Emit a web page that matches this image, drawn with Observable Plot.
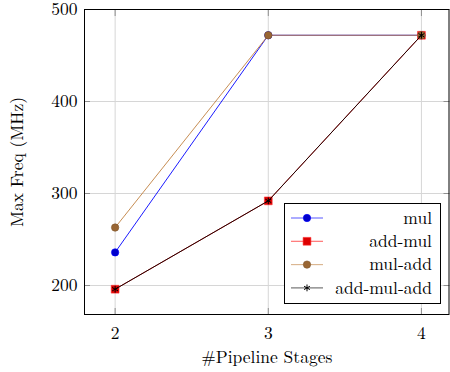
<!DOCTYPE html>
<html><head><meta charset="utf-8">
<script src="https://cdn.jsdelivr.net/npm/d3@7"></script>
<script src="https://cdn.jsdelivr.net/npm/@observablehq/plot@0.6"></script>
<style>
body{margin:0;background:#fff;}
#wrap{position:relative;width:450px;height:372px;font-family:'Latin Modern Roman',serif;}
</style></head><body><div id="wrap"></div>
<script>
const stages = [2, 3, 4];
const seriesNames = ["mul", "add-mul", "mul-add", "add-mul-add"];
const mul = [236, 472, 472];
const addMul = [196, 292, 472];
const mulAdd = [263, 472, 472];
const addMulAdd = [196, 292, 472];
const xTicks = [2, 3, 4];
const yTicks = [200, 300, 400, 500];
const xLabel = "#Pipeline Stages";
const yLabel = "Max Freq (MHz)";

const values = [mul, addMul, mulAdd, addMulAdd];
const styles = [
  {line: "#0000ff", fill: "#0000cc", stroke: "#0000ff", symbol: "circle", r: 3.7},
  {line: "#ff0000", fill: "#dd0000", stroke: "#ff3030", symbol: "square", r: 4.4},
  {line: "#bf8040", fill: "#996633", stroke: "#80552b", symbol: "circle", r: 3.7},
  {line: "#000000", fill: "none", stroke: "#000000", symbol: "asterisk", r: 3.2}
];
const data = [];
seriesNames.forEach((name, i) => stages.forEach((s, j) => data.push({series: name, idx: i, x: s, y: values[i][j]})));

const FONT = "Latin Modern Roman";
const FS = 17.5;
const GRID = "#d6d6d6", TICK = "#8f8f8f";
const blank = () => "";
const marks = [
  Plot.gridX(xTicks, {stroke: GRID, strokeOpacity: 1, strokeWidth: 1}),
  Plot.gridY(yTicks, {stroke: GRID, strokeOpacity: 1, strokeWidth: 1}),
  Plot.axisX(xTicks, {anchor: "bottom", tickSize: -6, tickFormat: blank, label: null, stroke: TICK}),
  Plot.axisX(xTicks, {anchor: "top", tickSize: -6, tickFormat: blank, label: null, stroke: TICK}),
  Plot.axisY(yTicks, {anchor: "left", tickSize: -6, tickFormat: blank, label: null, stroke: TICK}),
  Plot.axisY(yTicks, {anchor: "right", tickSize: -6, tickFormat: blank, label: null, stroke: TICK}),
];
seriesNames.forEach((name, i) => {
  const d = data.filter(r => r.idx === i);
  const st = styles[i];
  marks.push(Plot.line(d, {x: "x", y: "y", stroke: st.line, strokeWidth: 0.9}));
  marks.push(Plot.dot(d, {x: "x", y: "y", symbol: () => st.symbol, r: st.r, fill: st.fill, stroke: st.stroke, strokeWidth: st.symbol === "asterisk" ? 1 : 0.6}));
});
marks.push(
  Plot.frame({stroke: "#000", strokeWidth: 1}),
  Plot.axisX(xTicks, {tickSize: 0, tickPadding: 12, label: null, fontSize: FS, fontFamily: FONT, tickFormat: d3.format("d")}),
  Plot.axisY(yTicks, {tickSize: 0, tickPadding: 7, label: null, fontSize: FS, fontFamily: FONT, tickFormat: d3.format("d")}),
  Plot.text([yLabel], {text: d => d, frameAnchor: "left", dx: -67, rotate: -90, textAnchor: "middle", lineAnchor: "middle", fontSize: FS, fontFamily: FONT}),
  Plot.text([xLabel], {text: d => d, frameAnchor: "bottom", dy: 43, textAnchor: "middle", lineAnchor: "middle", fontSize: FS, fontFamily: FONT})
);

const chart = Plot.plot({
  width: 450, height: 372,
  marginLeft: 84, marginRight: 1.5, marginTop: 9, marginBottom: 58,
  x: {domain: [1.8, 4.18], ticks: xTicks},
  y: {domain: [168.5, 500], ticks: yTicks},
  style: {fontFamily: FONT, fontSize: FS + "px", color: "#000", background: "#fff"},
  marks
});
const wrap = document.getElementById("wrap");
wrap.appendChild(chart);

// legend
const lw = 157, lh = 101;
const leg = d3.create("svg").attr("width", lw).attr("height", lh)
  .style("position", "absolute").style("left", "284px").style("top", "203px");
leg.append("rect").attr("x", 0.5).attr("y", 0.5).attr("width", lw - 1).attr("height", lh - 1).attr("fill", "#fff").attr("stroke", "#000");
const symMap = {circle: d3.symbolCircle, square: d3.symbolSquare, asterisk: d3.symbolAsterisk};
seriesNames.forEach((name, i) => {
  const st = styles[i];
  const cy = 15 + i * 23.3;
  const g = leg.append("g");
  g.append("line").attr("x1", 7).attr("x2", 39).attr("y1", cy).attr("y2", cy).attr("stroke", st.line).attr("stroke-width", 1.1).attr("stroke-opacity", 0.6);
  g.append("path").attr("d", d3.symbol(symMap[st.symbol], st.r * st.r * Math.PI)()).attr("transform", `translate(23,${cy})`)
    .attr("fill", st.fill).attr("stroke", st.stroke).attr("stroke-width", st.symbol === "asterisk" ? 1 : 0.6);
  g.append("text").attr("x", 148).attr("y", cy).attr("dy", "0.32em").attr("text-anchor", "end")
    .attr("font-family", FONT).attr("font-size", FS).text(name);
});
wrap.appendChild(leg.node());
</script></body></html>
